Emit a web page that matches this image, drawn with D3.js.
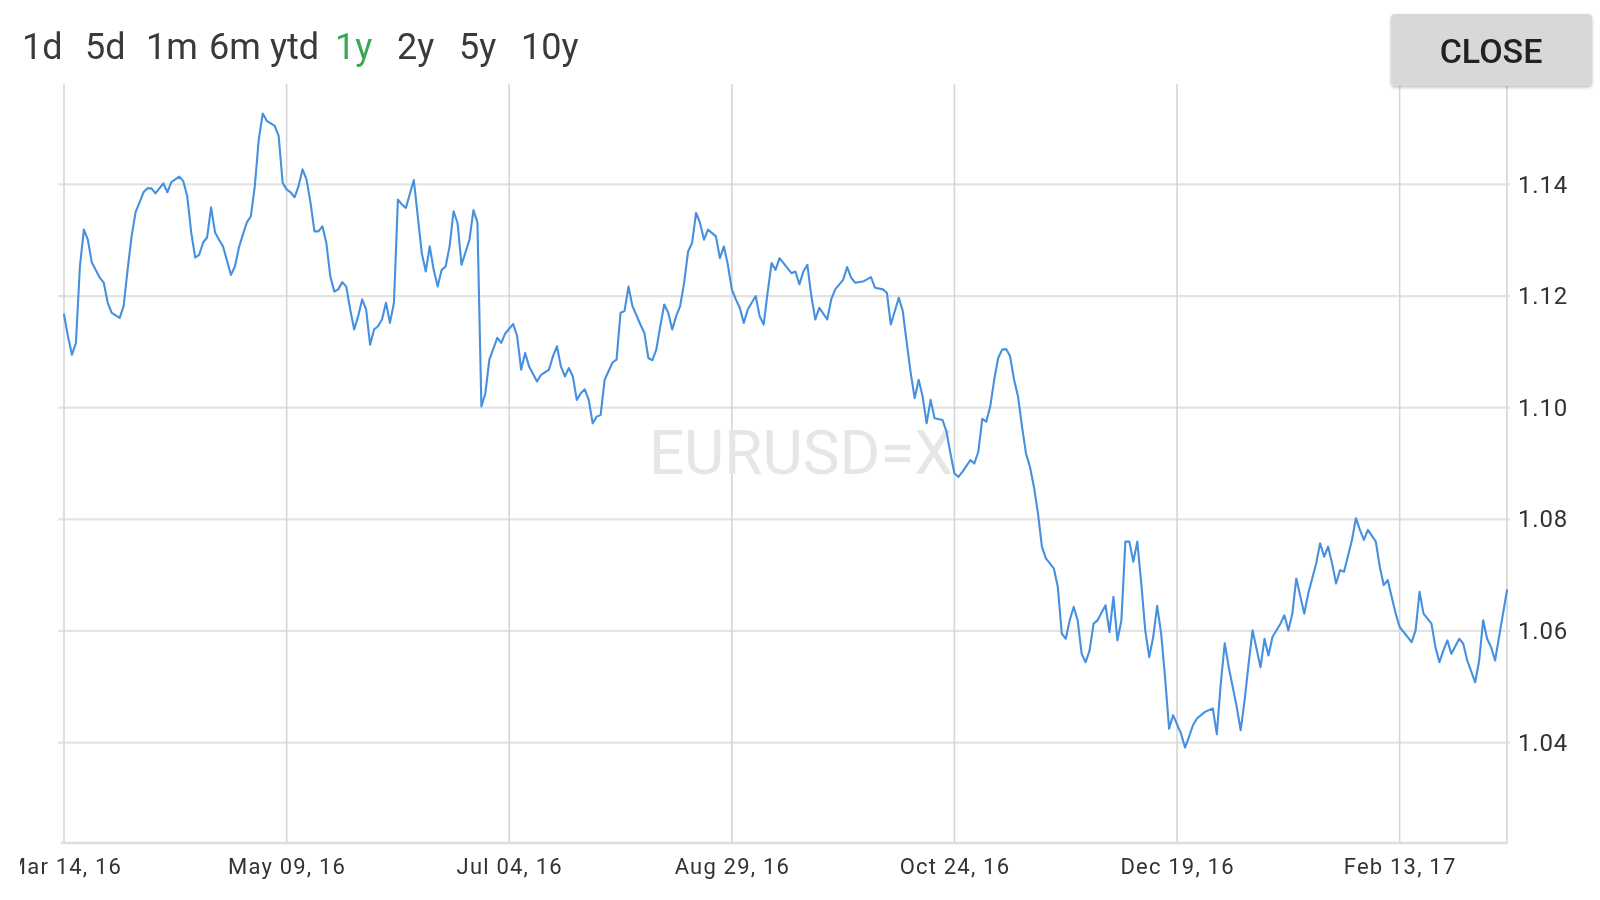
<!DOCTYPE html>
<html><head><meta charset="utf-8">
<script src="https://cdn.jsdelivr.net/npm/d3@7"></script>
<style>
html,body{margin:0;padding:0;background:#fff;overflow:hidden}
svg{display:block;font-family:Roboto,"Noto Sans",sans-serif;filter:blur(0.45px)}
</style>
</head><body>
<svg id="chart" width="1600" height="900"></svg>
<script>
// ---------------- DATA ----------------
const startDate = "2016-03-14";
const dayOffsets = [
0,1,2,3,4,5,6,7,9,10,11,12,14,15,16,17,18,20,21,22,23,25,26,27,29,30,31,32,33,34,35,36,37,38,39,40,
42,43,44,45,46,47,48,49,50,51,53,54,55,56,57,58,59,60,61,62,63,64,65,66,67,68,69,70,71,72,73,74,75,76,
77,78,79,80,81,82,83,84,85,86,88,89,90,91,92,93,94,95,96,97,98,99,100,102,103,104,105,106,107,109,110,
111,113,114,115,116,117,119,120,122,123,124,125,126,127,128,129,130,131,132,133,134,135,136,138,139,140,
141,142,143,145,146,147,148,149,150,151,152,153,154,155,156,157,158,159,160,161,162,164,165,166,167,168,
169,170,171,172,174,175,176,177,178,179,180,182,183,184,185,186,187,188,189,190,192,193,194,196,197,198,
199,201,203,204,206,207,208,210,211,212,213,214,215,216,217,218,219,221,222,223,224,225,226,228,229,230,
231,232,233,234,235,236,237,238,239,240,241,242,243,244,245,246,247,249,250,251,252,253,254,255,256,257,
258,259,260,262,263,264,265,266,267,268,269,270,271,272,273,274,275,276,277,278,279,281,282,283,284,285,
287,289,290,291,292,293,295,296,297,298,299,301,302,303,304,306,307,308,309,310,312,313,315,316,317,318,
319,320,321,322,324,325,326,327,328,330,331,332,333,334,335,336,339,340,341,342,344,345,346,347,348,349,
351,352,353,355,356,357,358,359,360,363
];
const rates = [
1.1167,1.1128,1.1095,1.1116,1.1253,1.1319,1.1301,1.1260,1.1233,1.1224,1.1188,1.1170,1.1161,1.1182,1.1247,1.1307,1.1350,1.1386,1.1393,1.1393,1.1384,1.1402,1.1386,1.1404,1.1414,1.1406,1.1379,1.1314,1.1269,1.1274,1.1296,1.1305,1.1359,1.1314,1.1301,1.1289,
1.1238,1.1253,1.1287,1.1310,1.1332,1.1343,1.1397,1.1481,1.1527,1.1514,1.1505,1.1487,1.1403,1.1391,1.1386,1.1377,1.1397,1.1427,1.1409,1.1368,1.1316,1.1316,1.1325,1.1295,1.1235,1.1208,1.1212,1.1225,1.1217,1.1176,1.1140,1.1164,1.1194,1.1176,
1.1113,1.1140,1.1146,1.1158,1.1188,1.1152,1.1188,1.1373,1.1364,1.1358,1.1408,1.1343,1.1277,1.1244,1.1289,1.1247,1.1217,1.1247,1.1253,1.1289,1.1352,1.1331,1.1256,1.1301,1.1354,1.1332,1.1002,1.1026,1.1086,1.1125,1.1116,
1.1133,1.1150,1.1128,1.1068,1.1098,1.1074,1.1047,1.1059,1.1068,1.1092,1.1110,1.1074,1.1056,1.1071,1.1056,1.1014,1.1026,1.1033,1.1014,1.0972,1.0984,1.0987,1.1050,1.1081,1.1086,1.1170,
1.1173,1.1217,1.1182,1.1149,1.1134,1.1089,1.1085,1.1104,1.1146,1.1185,1.1170,1.1140,1.1164,1.1182,1.1224,1.1280,1.1295,1.1349,1.1331,1.1301,1.1319,1.1307,1.1268,1.1289,1.1256,1.1212,
1.1194,1.1179,1.1152,1.1176,1.1200,1.1164,1.1149,1.1206,1.1259,1.1247,1.1268,1.1250,1.1241,1.1244,1.1221,1.1244,1.1256,1.1200,1.1158,1.1179,1.1158,1.1194,1.1212,1.1229,1.1252,1.1233,
1.1224,1.1226,1.1234,1.1215,1.1212,1.1206,1.1149,1.1197,1.1173,1.1116,1.1062,1.1017,1.1050,1.1020,1.0972,1.1014,1.0981,1.0978,1.0957,1.0918,1.0882,1.0876,1.0885,1.0906,1.0900,1.0921,
1.0980,1.0975,1.1002,1.1050,1.1089,1.1104,1.1105,1.1092,1.1050,1.1020,1.0966,1.0918,1.0894,1.0858,1.0811,1.0751,1.0730,1.0712,1.0679,1.0595,1.0586,1.0619,1.0643,1.0619,1.0559,1.0544,
1.0565,1.0613,1.0619,1.0646,1.0598,1.0661,1.0583,1.0619,1.0760,1.0760,1.0724,1.0760,1.0685,1.0601,1.0553,1.0589,1.0645,1.0595,1.0515,1.0425,1.0449,1.0416,1.0391,1.0410,1.0431,1.0443,
1.0455,1.0461,1.0415,1.0506,1.0578,1.0535,1.0464,1.0422,1.0476,1.0541,1.0601,1.0535,1.0586,1.0556,1.0589,1.0613,1.0628,1.0601,1.0631,1.0694,1.0631,1.0667,1.0721,1.0757,1.0733,1.0751,
1.0721,1.0685,1.0709,1.0706,1.0763,1.0802,1.0781,1.0763,1.0781,1.0760,1.0715,1.0682,1.0691,1.0661,1.0631,1.0607,1.0580,1.0601,1.0670,1.0631,1.0613,1.0571,1.0544,1.0565,1.0583,1.0559,
1.0586,1.0577,1.0547,1.0508,1.0547,1.0619,1.0586,1.0571,1.0547,1.0673
];
const xTickDates = ["2016-03-14","2016-05-09","2016-07-04","2016-08-29","2016-10-24","2016-12-19","2017-02-13"];
const yTicks = [1.04,1.06,1.08,1.10,1.12,1.14];
const yDomain = [1.022,1.158];
const rangeLabels = ["1d","5d","1m","6m","ytd","1y","2y","5y","10y"];
const activeRange = "1y";
const symbolName = "EURUSD=X";
const closeLabel = "CLOSE";

// ---------------- LAYOUT ----------------
const plot = {left:64, right:1507, top:84, bottom:843};
const rangeX = [22,85,146,209,270,335,397,459,521];

const parse = d3.utcParse("%Y-%m-%d");
const start = parse(startDate);
const data = dayOffsets.map((d,i)=>({date:d3.utcDay.offset(start,d), v:rates[i]}));
const tickDates = xTickDates.map(parse);

const x = d3.scaleUtc().domain(d3.extent(data,d=>d.date)).range([plot.left,plot.right]);
const y = d3.scaleLinear().domain(yDomain).range([plot.bottom,plot.top]);

const svg = d3.select("#chart");
const defs = svg.append("defs");
defs.append("clipPath").attr("id","xlabClip").append("rect")
  .attr("x",20).attr("y",844).attr("width",1580).attr("height",56);
const sh = defs.append("filter").attr("id","btnShadow").attr("x","-10%").attr("y","-10%").attr("width","120%").attr("height","130%");
sh.append("feDropShadow").attr("dx",0).attr("dy",1.5).attr("stdDeviation",1.5)
  .attr("flood-color","#000").attr("flood-opacity",0.25);

// horizontal grid
svg.append("g").selectAll("line").data(yTicks).join("line")
  .attr("x1",58).attr("x2",plot.right+3)
  .attr("y1",d=>y(d)).attr("y2",d=>y(d))
  .attr("stroke","#e3e3e3").attr("stroke-width",2.2);

// vertical grid
svg.append("g").selectAll("line").data(tickDates).join("line")
  .attr("x1",d=>x(d)).attr("x2",d=>x(d))
  .attr("y1",plot.top).attr("y2",plot.bottom)
  .attr("stroke","#d6d6d6").attr("stroke-width",1.6);
// right border
svg.append("line").attr("x1",plot.right).attr("x2",plot.right)
  .attr("y1",plot.top).attr("y2",plot.bottom)
  .attr("stroke","#dcdcdc").attr("stroke-width",2);
// bottom axis line
svg.append("line").attr("x1",61).attr("x2",plot.right)
  .attr("y1",plot.bottom).attr("y2",plot.bottom)
  .attr("stroke","#dedede").attr("stroke-width",2.5);

// watermark
svg.append("text").attr("x",801).attr("y",474).attr("text-anchor","middle")
  .attr("font-size",62).attr("fill","#e6e6e6").text(symbolName);

// line
svg.append("path").datum(data)
  .attr("fill","none").attr("stroke","#4690e0").attr("stroke-width",2.1)
  .attr("stroke-linejoin","round").attr("stroke-linecap","round")
  .attr("d",d3.line().x(d=>x(d.date)).y(d=>y(d.v)));

// x axis labels
const xa = svg.append("g").attr("clip-path","url(#xlabClip)")
  .append("g").attr("transform",`translate(0,${plot.bottom})`)
  .call(d3.axisBottom(x).tickValues(tickDates).tickFormat(d3.utcFormat("%b %d, %y")).tickSize(0).tickPadding(15));
xa.select(".domain").remove();
xa.selectAll("text").attr("font-size",22).attr("letter-spacing","1.2px")
  .attr("fill","#333").attr("font-family","Roboto, sans-serif");

// y axis labels
const ya = svg.append("g").attr("transform",`translate(${plot.right},0)`)
  .call(d3.axisRight(y).tickValues(yTicks).tickFormat(d3.format(".2f")).tickSize(0).tickPadding(11));
ya.select(".domain").remove();
ya.selectAll("text").attr("font-size",24).attr("letter-spacing","0.8px")
  .attr("fill","#333").attr("font-family","Roboto, sans-serif");

// range selector
svg.append("g").selectAll("text").data(rangeLabels).join("text")
  .attr("x",(d,i)=>rangeX[i]).attr("y",59)
  .attr("font-size",36).attr("fill",d=>d===activeRange?"#3aa757":"#3a3a3a")
  .text(d=>d);

// close button
const btn = svg.append("g");
btn.append("rect").attr("x",1391).attr("y",14).attr("width",201).attr("height",72).attr("rx",4)
  .attr("fill","#d8d8d8").attr("filter","url(#btnShadow)");
btn.append("text").attr("x",1491).attr("y",63).attr("text-anchor","middle")
  .attr("font-size",34).attr("font-weight",500).attr("fill","#222").text(closeLabel);
</script>
</body></html>
